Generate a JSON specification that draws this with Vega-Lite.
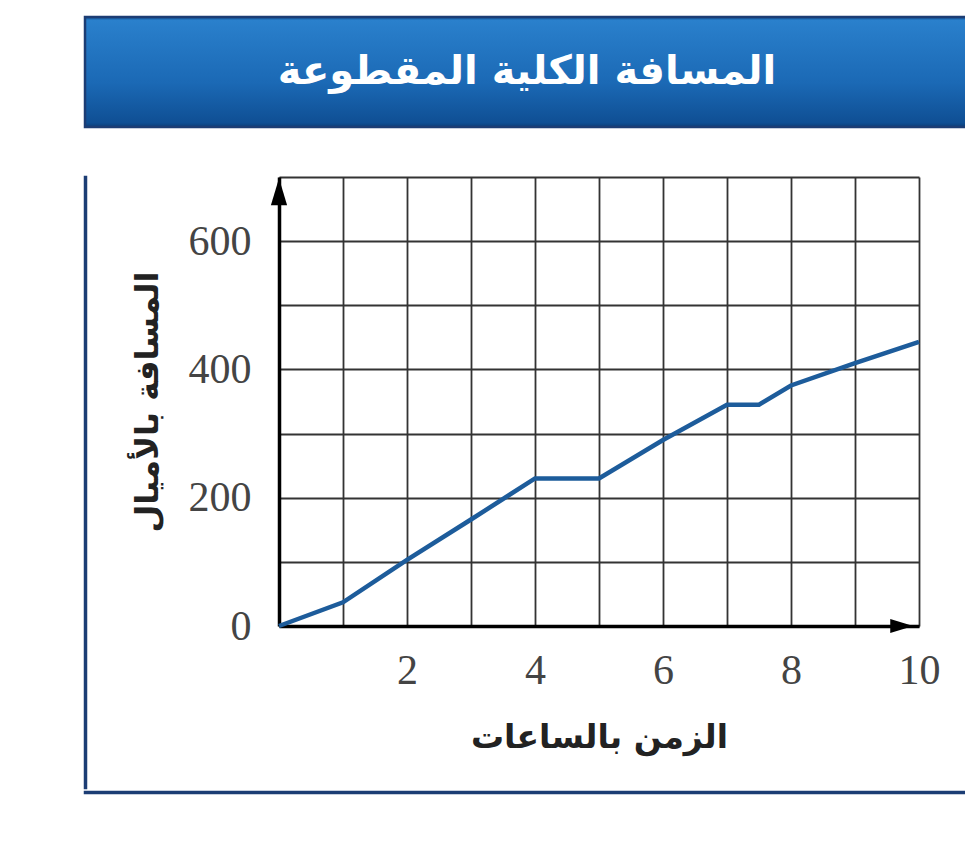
{
  "$schema": "https://vega.github.io/schema/vega-lite/v6.json",
  "padding": {"left": 83, "top": 15, "right": -20, "bottom": 0},
  "background": "white",
  "spacing": 46,
  "config": {"view": {"stroke": null}},
  "vconcat": [
    {
      "width": 902,
      "height": 110,
      "view": {"fill": {"expr": "{gradient: 'linear', x1: 0, y1: 0, x2: 0, y2: 1, stops: [{offset: 0, color: '#0d4a8c'}, {offset: 0.03, color: '#2a80cc'}, {offset: 0.6, color: '#1b69b5'}, {offset: 0.96, color: '#0f4f94'}, {offset: 1, color: '#0b3f7a'}]}"}, "stroke": "#1c3d74", "strokeWidth": 2.5},
      "data": {"values": [{"title": "المسافة الكلية المقطوعة"}]},
      "mark": {"type": "text", "font": "DejaVu Sans", "fontWeight": "bold", "fontSize": 40, "color": "white", "dx": -9, "baseline": "middle", "align": "center"},
      "encoding": {"text": {"field": "title"}}
    },
    {
      "spacing": 0,
      "vconcat": [
        {
          "spacing": 43,
          "hconcat": [
            {
              "width": 1,
              "height": 611,
              "view": {"stroke": "#1c3d74", "strokeWidth": 2.5},
              "data": {"values": []},
              "mark": {"type": "point"}
            },
            {
              "width": 640,
              "height": 449,
              "data": {"values": [
                {"hours": 0, "miles": 0},
                {"hours": 1, "miles": 37},
                {"hours": 2, "miles": 103},
                {"hours": 3, "miles": 166},
                {"hours": 4, "miles": 230},
                {"hours": 5, "miles": 230},
                {"hours": 6, "miles": 290},
                {"hours": 7, "miles": 345},
                {"hours": 7.5, "miles": 345},
                {"hours": 8, "miles": 375},
                {"hours": 9, "miles": 410},
                {"hours": 10, "miles": 443}
              ]},
              "layer": [
                {
                  "mark": {"type": "line", "color": "#1d5c9b", "strokeWidth": 4.5},
                  "encoding": {
                    "x": {"field": "hours", "type": "quantitative",
                      "scale": {"domain": [0, 10], "nice": false},
                      "axis": {"values": [0,1,2,3,4,5,6,7,8,9,10], "format": "d",
                        "labelExpr": "datum.value % 2 == 0 && datum.value > 0 ? datum.label : ''",
                        "title": "الزمن بالساعات",
                        "grid": true, "gridColor": "#333333", "gridWidth": 1.8, "gridOpacity": 1,
                        "ticks": false, "domainColor": "black", "domainWidth": 3.5,
                        "labelFont": "Liberation Serif", "labelFontSize": 42, "labelColor": "#444444", "labelPadding": 24, "labelFlush": false,
                        "titleFont": "DejaVu Sans", "titleFontSize": 33, "titleFontWeight": "bold", "titleColor": "#222222", "titlePadding": 30}},
                    "y": {"field": "miles", "type": "quantitative",
                      "scale": {"domain": [0, 700], "nice": false},
                      "axis": {"values": [0,100,200,300,400,500,600,700], "format": "d",
                        "labelExpr": "datum.value % 200 == 0 ? datum.label : ''",
                        "title": "المسافة بالأميال",
                        "grid": true, "gridColor": "#333333", "gridWidth": 1.8, "gridOpacity": 1,
                        "ticks": false, "domainColor": "black", "domainWidth": 3.5,
                        "labelFont": "Liberation Serif", "labelFontSize": 42, "labelColor": "#444444", "labelPadding": 28, "labelFlush": false,
                        "titleFont": "DejaVu Sans", "titleFontSize": 32, "titleFontWeight": "bold", "titleColor": "#222222", "titlePadding": 24}}
                  }
                },
                {
                  "data": {"values": [{}]},
                  "mark": {"type": "point", "shape": "M-0.6,1L0,-1L0.6,1Z", "filled": true, "color": "black", "opacity": 1, "size": 729},
                  "encoding": {"x": {"datum": 0, "type": "quantitative"}, "y": {"datum": 677, "type": "quantitative"}}
                },
                {
                  "data": {"values": [{}]},
                  "mark": {"type": "point", "shape": "M-1,-0.6L1,0L-1,0.6Z", "filled": true, "color": "black", "opacity": 1, "size": 529},
                  "encoding": {"x": {"datum": 9.73, "type": "quantitative"}, "y": {"datum": 0, "type": "quantitative"}}
                }
              ]
            }
          ]
        },
        {
          "width": 902,
          "height": 1,
          "view": {"stroke": "#1c3d74", "strokeWidth": 2.5},
          "data": {"values": []},
          "mark": {"type": "point"}
        }
      ]
    }
  ]
}
